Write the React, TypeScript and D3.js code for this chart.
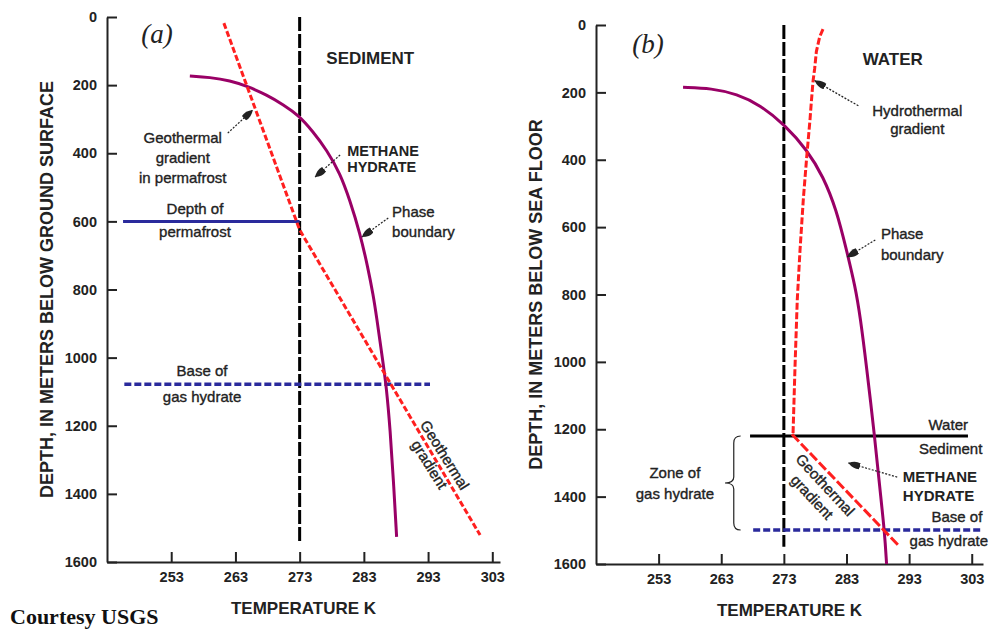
import React, { useEffect, useRef } from 'react';
import * as d3 from 'd3';

const tempTicks = [253, 263, 273, 283, 293, 303];
const depthTicks = [0, 200, 400, 600, 800, 1000, 1200, 1400, 1600];

// (a) permafrost setting
const phaseTempA = [255.9, 259.0, 262.2, 264.8, 267.9, 270.5, 272.8, 275.1, 277.2, 279.3, 280.8, 282.4, 283.6, 284.5, 284.9, 286.0, 286.5, 287.1, 287.6, 288.1];
const phaseDepthA = [173, 177, 187, 203, 229, 258, 288, 337, 390, 459, 537, 635, 733, 821, 870, 1017, 1085, 1212, 1359, 1526];
const geoTempA = [261.2, 273, 301.1];
const geoDepthA = [18, 625, 1521];
const freezeDepthA = [0, 1545];
const permafrostTemp = [245.5, 273];
const permafrostDepth = 600;
const baseTempA = [245.7, 293.3];
const baseDepthA = 1078;

// (b) oceanic setting
const phaseTempB = [256.9, 261.5, 265.5, 269.2, 273.2, 276.7, 279.3, 281.4, 283.0, 284.4, 285.2, 286.2, 287.5, 288.3, 289.1, 289.4];
const phaseDepthB = [185, 188, 205, 237, 297, 371, 450, 549, 668, 777, 866, 1014, 1222, 1371, 1508, 1600];
const hydroTempB = [279.25, 278.72, 278.19, 277.92, 277.65, 277.39, 277.17, 276.65, 276.1, 275.58, 275.14, 274.78, 274.46];
const hydroDepthB = [12, 35, 79, 129, 168, 228, 282, 391, 519, 668, 816, 1014, 1217];
const geoTempB = [274.3, 291.2];
const geoDepthB = [1215, 1543];
const freezeDepthB = [0, 1549];
const seaFloorTemp = [267.6, 302.4];
const seaFloorDepth = 1220;
const baseTempB = [268.1, 304.7];
const baseDepthB = 1499;
const zoneDepthB = [1220, 1499];

const zip = (a: number[], b: number[]) => a.map((v, i) => [v, b[i]] as [number, number]);

const SANS = '"Liberation Sans", Arial, Helvetica, sans-serif';
const SERIF = '"Liberation Serif", "Times New Roman", serif';
const INK = '#222';
const PURPLE = '#990066';
const RED = '#ff1f1f';
const NAVY = '#2a2a9c';

const panels = [
  {
    key: 'a', label: '(a)', labelAt: [250.8, 76],
    x0: 107, x1: 500, tMax: 304.2, y0: 17, y1: 562,
    yTitle: 'DEPTH, IN METERS BELOW GROUND SURFACE',
  },
  {
    key: 'b', label: '(b)', labelAt: [251.3, 82],
    x0: 596, x1: 983, tMax: 304.8, y0: 25, y1: 564,
    yTitle: 'DEPTH, IN METERS BELOW SEA FLOOR',
  },
];

// text notes: [T, depth] anchors in data units
const notesA = [
  { lines: ['SEDIMENT'], at: [284.0, 120], anchor: 'middle', bold: true, size: 17 },
  { lines: ['Geothermal', 'gradient', 'in permafrost'], at: [254.8, 355], anchor: 'middle', step: 20 },
  { lines: ['METHANE', 'HYDRATE'], at: [280.4, 394], anchor: 'start', bold: true, size: 14.5, step: 16 },
  { lines: ['Phase', 'boundary'], at: [287.4, 573], anchor: 'start', step: 20 },
  { lines: ['Depth of', 'permafrost'], at: [256.7, 564], anchor: 'middle', step: 23 },
  { lines: ['Base of', 'gas hydrate'], at: [257.8, 1039], anchor: 'middle', step: 26 },
];
const arrowsA = [
  [[261.8, 341], [265.7, 273]],
  [[279.3, 405], [275.4, 470]],
  [[286.8, 590], [282.7, 646]],
];
const notesB = [
  { lines: ['WATER'], at: [290.4, 101], anchor: 'middle', bold: true, size: 17 },
  { lines: ['Hydrothermal', 'gradient'], at: [294.3, 255], anchor: 'middle', step: 18 },
  { lines: ['Phase', 'boundary'], at: [288.5, 620], anchor: 'start', step: 21 },
  { lines: ['Water'], at: [302.4, 1187], anchor: 'end' },
  { lines: ['Sediment'], at: [304.7, 1259], anchor: 'end' },
  { lines: ['METHANE', 'HYDRATE'], at: [292.0, 1342], anchor: 'start', bold: true, size: 15, step: 19 },
  { lines: ['Base of'], at: [304.7, 1460], anchor: 'end' },
  { lines: ['gas hydrate'], at: [305.6, 1532], anchor: 'end' },
  { lines: ['Zone of', 'gas hydrate'], at: [255.6, 1330], anchor: 'middle', step: 21 },
];
const arrowsB = [
  [[284.9, 240], [277.9, 165]],
  [[287.6, 638], [283.1, 689]],
  [[291.1, 1342], [283.3, 1300]],
];

export default function App() {
  const svgRef = useRef<SVGSVGElement>(null);

  useEffect(() => {
    const svg = d3.select(svgRef.current);
    svg.selectAll('*').remove();

    svg.append('defs').append('marker')
      .attr('id', 'head')
      .attr('markerUnits', 'userSpaceOnUse')
      .attr('markerWidth', 13).attr('markerHeight', 9)
      .attr('refX', 12).attr('refY', 4.5)
      .attr('orient', 'auto')
      .append('path')
      .attr('d', 'M0,1.5 Q6,0 12,4.5 Q6,9 0,7.5 Z')
      .attr('fill', INK);

    panels.forEach((p) => {
      const x = d3.scaleLinear().domain([243, p.tMax]).range([p.x0, p.x1]);
      const y = d3.scaleLinear().domain([0, 1600]).range([p.y0, p.y1]);
      const g = svg.append('g');
      const line = d3.line<[number, number]>().x(d => x(d[0])).y(d => y(d[1]));
      const curve = d3.line<[number, number]>().x(d => x(d[0])).y(d => y(d[1])).curve(d3.curveBasis);

      // axes
      const yAxis = g.append('g').attr('transform', `translate(${p.x0},0)`)
        .call(d3.axisLeft(y).tickValues(depthTicks).tickSizeInner(-10).tickSizeOuter(0).tickPadding(10).tickFormat(d3.format('d')));
      const xAxis = g.append('g').attr('transform', `translate(0,${p.y1})`)
        .call(d3.axisBottom(x).tickValues(tempTicks).tickSizeInner(-10).tickSizeOuter(0).tickPadding(10).tickFormat(d3.format('d')));
      [yAxis, xAxis].forEach(a => {
        a.select('.domain').attr('stroke', INK).attr('stroke-width', 2);
        a.selectAll('.tick line').attr('stroke', INK).attr('stroke-width', 2);
        a.selectAll('.tick text').attr('fill', INK).attr('font-family', SANS)
          .attr('font-size', 14.5).attr('font-weight', 'bold');
      });

      g.append('text')
        .attr('x', (p.x0 + p.x1) / 2).attr('y', p.y1 + 46).attr('dy', '0.35em')
        .attr('text-anchor', 'middle').attr('font-family', SANS).attr('font-weight', 'bold')
        .attr('font-size', 17).attr('fill', INK).text('TEMPERATURE K');
      g.append('text')
        .attr('transform', `translate(${p.x0 - 60},${(p.y0 + p.y1) / 2}) rotate(-90)`)
        .attr('dy', '0.35em')
        .attr('text-anchor', 'middle').attr('font-family', SANS).attr('font-weight', 'bold')
        .attr('font-size', 18).attr('fill', INK).text(p.yTitle);
      g.append('text')
        .attr('x', x(p.labelAt[0])).attr('y', y(p.labelAt[1]))
        .attr('text-anchor', 'middle').attr('font-family', SERIF).attr('font-style', 'italic')
        .attr('font-size', 27).attr('fill', INK).text(p.label);

      const notes = p.key === 'a' ? notesA : notesB;
      const arrows = p.key === 'a' ? arrowsA : arrowsB;
      const freeze = p.key === 'a' ? freezeDepthA : freezeDepthB;

      // 273 K line
      g.append('path').attr('d', line(freeze.map(d => [273, d] as [number, number])))
        .attr('stroke', '#000').attr('stroke-width', 3).attr('stroke-dasharray', '14,3').attr('fill', 'none');

      if (p.key === 'a') {
        g.append('path').attr('d', line(permafrostTemp.map(t => [t, permafrostDepth] as [number, number])))
          .attr('stroke', NAVY).attr('stroke-width', 3).attr('fill', 'none');
        g.append('path').attr('d', line(baseTempA.map(t => [t, baseDepthA] as [number, number])))
          .attr('stroke', NAVY).attr('stroke-width', 3.5).attr('stroke-dasharray', '7,3').attr('fill', 'none');
        g.append('path').attr('d', curve(zip(phaseTempA, phaseDepthA)))
          .attr('stroke', PURPLE).attr('stroke-width', 3).attr('fill', 'none');
        g.append('path').attr('d', line(zip(geoTempA, geoDepthA)))
          .attr('stroke', RED).attr('stroke-width', 3).attr('stroke-dasharray', '6,2.5').attr('fill', 'none');
        // rotated label along the gradient
        const gl = g.append('g').attr('transform', `translate(${x(295.6)},${y(1286)}) rotate(58)`);
        ['Geothermal', 'gradient'].forEach((t, i) => gl.append('text')
          .attr('y', i * 18).attr('dy', '0.35em').attr('text-anchor', 'middle')
          .attr('font-family', SANS).attr('font-size', 15).attr('fill', INK)
          .attr('stroke', INK).attr('stroke-width', 0.35).text(t));
      } else {
        g.append('path').attr('d', line(seaFloorTemp.map(t => [t, seaFloorDepth] as [number, number])))
          .attr('stroke', '#000').attr('stroke-width', 3).attr('fill', 'none');
        g.append('path').attr('d', line(baseTempB.map(t => [t, baseDepthB] as [number, number])))
          .attr('stroke', NAVY).attr('stroke-width', 3.5).attr('stroke-dasharray', '7,3').attr('fill', 'none');
        g.append('path').attr('d', curve(zip(phaseTempB, phaseDepthB)))
          .attr('stroke', PURPLE).attr('stroke-width', 3).attr('fill', 'none');
        g.append('path').attr('d', line(zip(hydroTempB, hydroDepthB)))
          .attr('stroke', RED).attr('stroke-width', 3).attr('stroke-dasharray', '7,2.5').attr('fill', 'none');
        g.append('path').attr('d', line(zip(geoTempB, geoDepthB)))
          .attr('stroke', RED).attr('stroke-width', 3).attr('stroke-dasharray', '10,3').attr('fill', 'none');
        const gl = g.append('g').attr('transform', `translate(${x(279.6)},${y(1365)}) rotate(47)`);
        ['Geothermal', 'gradient'].forEach((t, i) => gl.append('text')
          .attr('y', i * 18).attr('dy', '0.35em').attr('text-anchor', 'middle')
          .attr('font-family', SANS).attr('font-size', 15).attr('fill', INK)
          .attr('stroke', INK).attr('stroke-width', 0.35).text(t));
        // brace for zone of gas hydrate
        const bx = x(265.0), tip = x(263.6), ex = x(266.1);
        const [t0, t1] = zoneDepthB.map(d => y(d));
        const tm = (t0 + t1) / 2;
        const brace = `M${ex},${t0} Q${bx},${t0} ${bx},${t0 + 7} L${bx},${tm - 6} Q${bx},${tm} ${tip},${tm} `
          + `Q${bx},${tm} ${bx},${tm + 6} L${bx},${t1 - 7} Q${bx},${t1} ${ex},${t1}`;
        g.append('path').attr('d', brace).attr('stroke', INK).attr('stroke-width', 1.2).attr('fill', 'none');
      }

      arrows.forEach(([a, b]) => {
        g.append('line')
          .attr('x1', x(a[0])).attr('y1', y(a[1])).attr('x2', x(b[0])).attr('y2', y(b[1]))
          .attr('stroke', INK).attr('stroke-width', 1.2).attr('stroke-dasharray', '2,1.5')
          .attr('marker-end', 'url(#head)');
      });

      notes.forEach((n: any) => {
        const t = g.append('text')
          .attr('x', x(n.at[0])).attr('y', y(n.at[1])).attr('dy', '0.35em')
          .attr('text-anchor', n.anchor).attr('font-family', SANS)
          .attr('font-size', n.size || 15).attr('font-weight', n.bold ? 'bold' : 'normal')
          .attr('fill', INK);
        if (!n.bold) t.attr('stroke', INK).attr('stroke-width', 0.35);
        n.lines.forEach((s: string, i: number) => t.append('tspan')
          .attr('x', x(n.at[0])).attr('dy', i === 0 ? '0.35em' : n.step).text(s));
      });
    });

    svg.append('text')
      .attr('x', 10).attr('y', 624)
      .attr('font-family', SERIF).attr('font-weight', 'bold').attr('font-size', 22)
      .attr('fill', '#111').text('Courtesy USGS');
  }, []);

  return (
    <div style={{ position: 'absolute', left: 0, top: 0, width: 990, height: 630, background: '#fff' }}>
      <svg ref={svgRef} width={990} height={630} style={{ display: 'block' }} />
    </div>
  );
}
